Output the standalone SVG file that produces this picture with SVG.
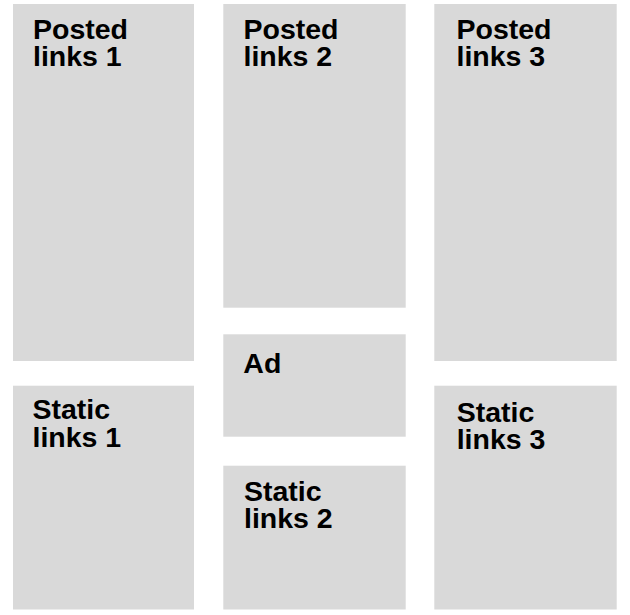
<svg xmlns="http://www.w3.org/2000/svg" width="630" height="615" viewBox="0 0 630 615">
<style>
.box{fill:#d9d9d9;}
.lbl{font-family:"Liberation Sans",Arial,sans-serif;font-weight:bold;font-size:28.5px;fill:#000;}
</style>
<rect width="630" height="615" fill="#fff"/>
<g id="posted1"><rect class="box" x="13" y="4" width="181" height="357"/><text class="lbl" x="33" y="39">Posted</text><text class="lbl" x="33" y="66">links 1</text></g>
<g id="posted2"><rect class="box" x="223.3" y="4" width="182.4" height="303.7"/><text class="lbl" x="243.5" y="39">Posted</text><text class="lbl" x="243.5" y="66">links 2</text></g>
<g id="posted3"><rect class="box" x="434.3" y="4" width="182.4" height="357"/><text class="lbl" x="456.5" y="39">Posted</text><text class="lbl" x="456.5" y="66">links 3</text></g>
<g id="ad"><rect class="box" x="223.3" y="334.3" width="182.4" height="102.4"/><text class="lbl" x="243.3" y="373">Ad</text></g>
<g id="static1"><rect class="box" x="13" y="385.7" width="181" height="223.8"/><text class="lbl" x="32.5" y="419">Static</text><text class="lbl" x="32.5" y="446.5">links 1</text></g>
<g id="static2"><rect class="box" x="223.3" y="465.7" width="182.4" height="143.8"/><text class="lbl" x="244" y="500.7">Static</text><text class="lbl" x="244" y="528.3">links 2</text></g>
<g id="static3"><rect class="box" x="434.3" y="385.7" width="182.4" height="223.8"/><text class="lbl" x="456.7" y="421.7">Static</text><text class="lbl" x="456.7" y="449">links 3</text></g>
<g id="connectors"/>
</svg>
